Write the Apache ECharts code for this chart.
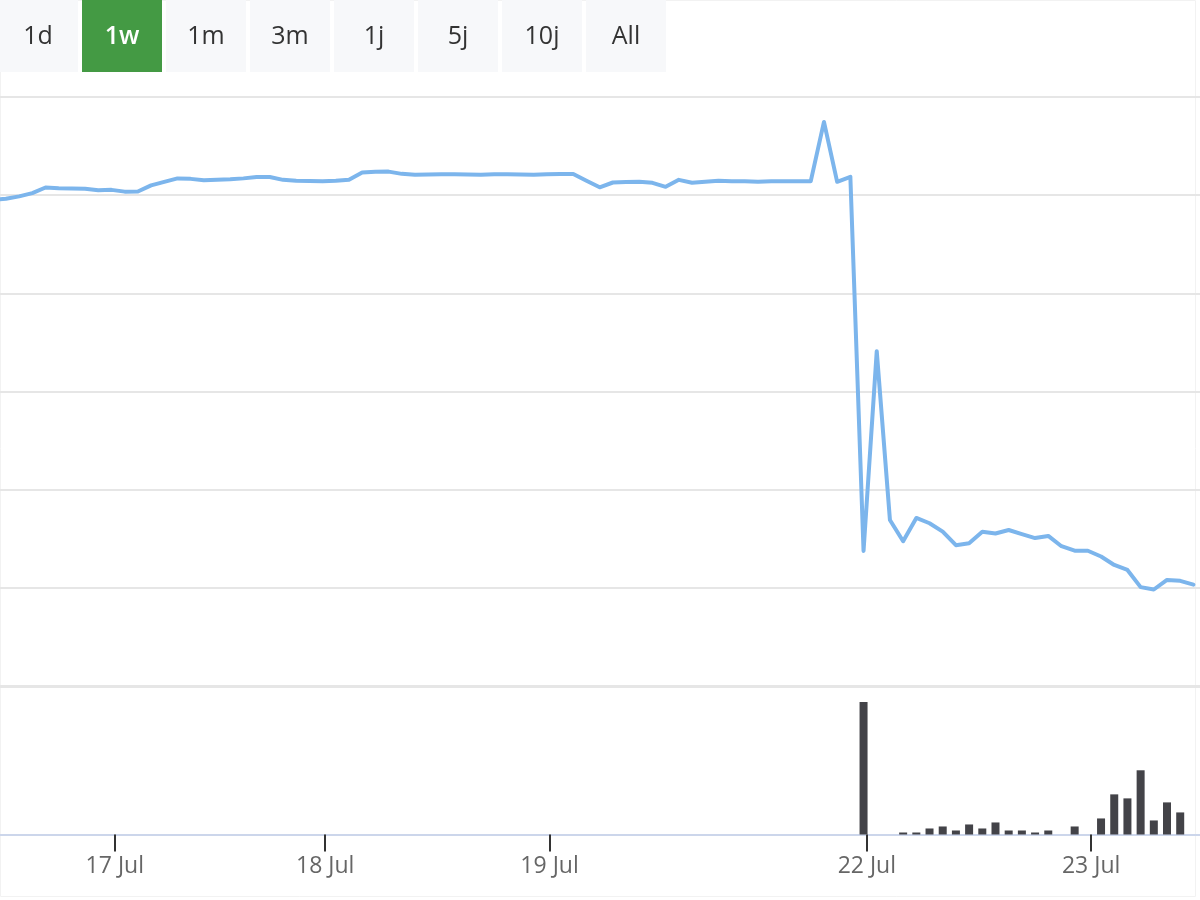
<!DOCTYPE html>
<html>
<head>
<meta charset="utf-8">
<script src="https://cdn.jsdelivr.net/npm/echarts@6/dist/echarts.min.js"></script>
<style>
  html, body { margin: 0; padding: 0; background: #fff; }
  #chart { width: 1200px; height: 900px; }
</style>
</head>
<body>
<div id="chart"></div>
<script>
// Range selector buttons
var rangeButtons = ['1d', '1w', '1m', '3m', '1j', '5j', '10j', 'All'];
var activeButton = '1w';

// Time axis tick positions (ordinal index of points) and labels
var tickPositions = [8.25, 24.2, 41.2, 65.25, 82.25];
var tickLabels = ['17 Jul', '18 Jul', '19 Jul', '22 Jul', '23 Jul'];

// Price per point (ordinal, first point just before the visible window)
var prices = [
  4.955, 4.963, 4.988, 5.021, 5.078, 5.070, 5.067, 5.065, 5.049, 5.054,
  5.036, 5.037, 5.100, 5.136, 5.171, 5.166, 5.151, 5.158, 5.161, 5.171,
  5.185, 5.185, 5.156, 5.146, 5.144, 5.141, 5.146, 5.156, 5.230, 5.239,
  5.240, 5.217, 5.207, 5.210, 5.214, 5.213, 5.211, 5.209, 5.212, 5.213,
  5.210, 5.207, 5.214, 5.215, 5.215, 5.146, 5.080, 5.129, 5.133, 5.136,
  5.126, 5.085, 5.156, 5.126, 5.136, 5.146, 5.143, 5.141, 5.136, 5.143,
  5.143, 5.143, 5.143, 5.746, 5.136, 5.187, 1.376, 3.410, 1.691, 1.475,
  1.712, 1.658, 1.573, 1.434, 1.454, 1.571, 1.554, 1.589, 1.548, 1.507,
  1.529, 1.424, 1.378, 1.378, 1.319, 1.233, 1.182, 1.007, 0.983, 1.081,
  1.071, 1.032
];

// Volume per point (thousands)
var volumes = [
  0, 0, 0, 0, 0, 0, 0, 0, 0, 0,
  0, 0, 0, 0, 0, 0, 0, 0, 0, 0,
  0, 0, 0, 0, 0, 0, 0, 0, 0, 0,
  0, 0, 0, 0, 0, 0, 0, 0, 0, 0,
  0, 0, 0, 0, 0, 0, 0, 0, 0, 0,
  0, 0, 0, 0, 0, 0, 0, 0, 0, 0,
  0, 0, 0, 0, 0, 0, 132, 0, 0, 2,
  2, 6, 8, 4, 10, 6, 12, 4, 4, 2,
  4, 0, 8, 0, 16, 40, 36, 64, 14, 32,
  22, 0
];

var firstIndex = -1;
var priceData = prices.map(function (v, i) { return [i + firstIndex, v]; });
var volumeData = volumes.map(function (v, i) { return [i + firstIndex, v]; });

var FONT = '"Open Sans", "Noto Sans", sans-serif';

// Build range selector graphic
var graphics = [];
rangeButtons.forEach(function (label, i) {
  var x = -2 + i * 84;
  var active = label === activeButton;
  graphics.push({
    type: 'rect',
    shape: { x: x, y: 0, width: 80, height: 72 },
    style: { fill: active ? '#449a44' : '#f7f8fa' },
    silent: true
  });
  graphics.push({
    type: 'text',
    x: x + 40,
    y: 37,
    style: {
      text: label,
      fill: active ? '#ffffff' : '#333333',
      font: (active ? '600 ' : 'normal ') + '25px ' + FONT,
      textAlign: 'center',
      textVerticalAlign: 'middle',
      align: 'center',
      verticalAlign: 'middle'
    },
    silent: true
  });
});
graphics.push({
  type: 'rect',
  shape: { x: 0.5, y: 0.5, width: 1195, height: 896 },
  style: { fill: 'none', stroke: '#f2f2f2', lineWidth: 1 },
  silent: true,
  z: -1
});

var xMin = -0.45, xMax = 90.5;

var chart = echarts.init(document.getElementById('chart'), null, { renderer: 'canvas' });
chart.setOption({
  animation: false,
  backgroundColor: '#ffffff',
  graphic: graphics,
  grid: [
    { left: 0, right: 0, top: 97, height: 589 },
    { left: 0, right: 0, top: 686, height: 148.5 }
  ],
  xAxis: [
    {
      type: 'value', gridIndex: 0, min: xMin, max: xMax,
      axisLine: { show: true, onZero: false, lineStyle: { color: '#e6e6e6', width: 3 } },
      axisTick: { show: false },
      axisLabel: { show: false },
      splitLine: { show: false }
    },
    {
      type: 'value', gridIndex: 1, min: xMin, max: xMax,
      axisLine: { show: true, onZero: false, lineStyle: { color: '#ccd6eb', width: 2 } },
      axisTick: {
        show: true, length: 17, customValues: tickPositions,
        lineStyle: { color: '#333333', width: 2 }
      },
      axisLabel: {
        show: true, customValues: tickPositions, margin: 20,
        color: '#666666', fontSize: 23, fontFamily: FONT,
        formatter: function (v) {
          for (var k = 0; k < tickPositions.length; k++) {
            if (Math.abs(tickPositions[k] - v) < 1e-6) return tickLabels[k];
          }
          return '';
        }
      },
      splitLine: { show: false }
    }
  ],
  yAxis: [
    {
      type: 'value', gridIndex: 0, min: 0, max: 6, interval: 1,
      axisLine: { show: false }, axisTick: { show: false }, axisLabel: { show: false },
      splitLine: { show: true, lineStyle: { color: '#e6e6e6', width: 2 } }
    },
    {
      type: 'value', gridIndex: 1, min: 0, max: 148,
      axisLine: { show: false }, axisTick: { show: false }, axisLabel: { show: false },
      splitLine: { show: false }
    }
  ],
  series: [
    {
      type: 'line', xAxisIndex: 0, yAxisIndex: 0,
      data: priceData, symbol: 'none',
      lineStyle: { color: '#7cb5ec', width: 4, join: 'round', cap: 'round' },
      itemStyle: { color: '#7cb5ec' }
    },
    {
      type: 'bar', xAxisIndex: 1, yAxisIndex: 1,
      data: volumeData, barWidth: 8,
      itemStyle: { color: '#434348' }
    }
  ]
});
</script>
</body>
</html>
